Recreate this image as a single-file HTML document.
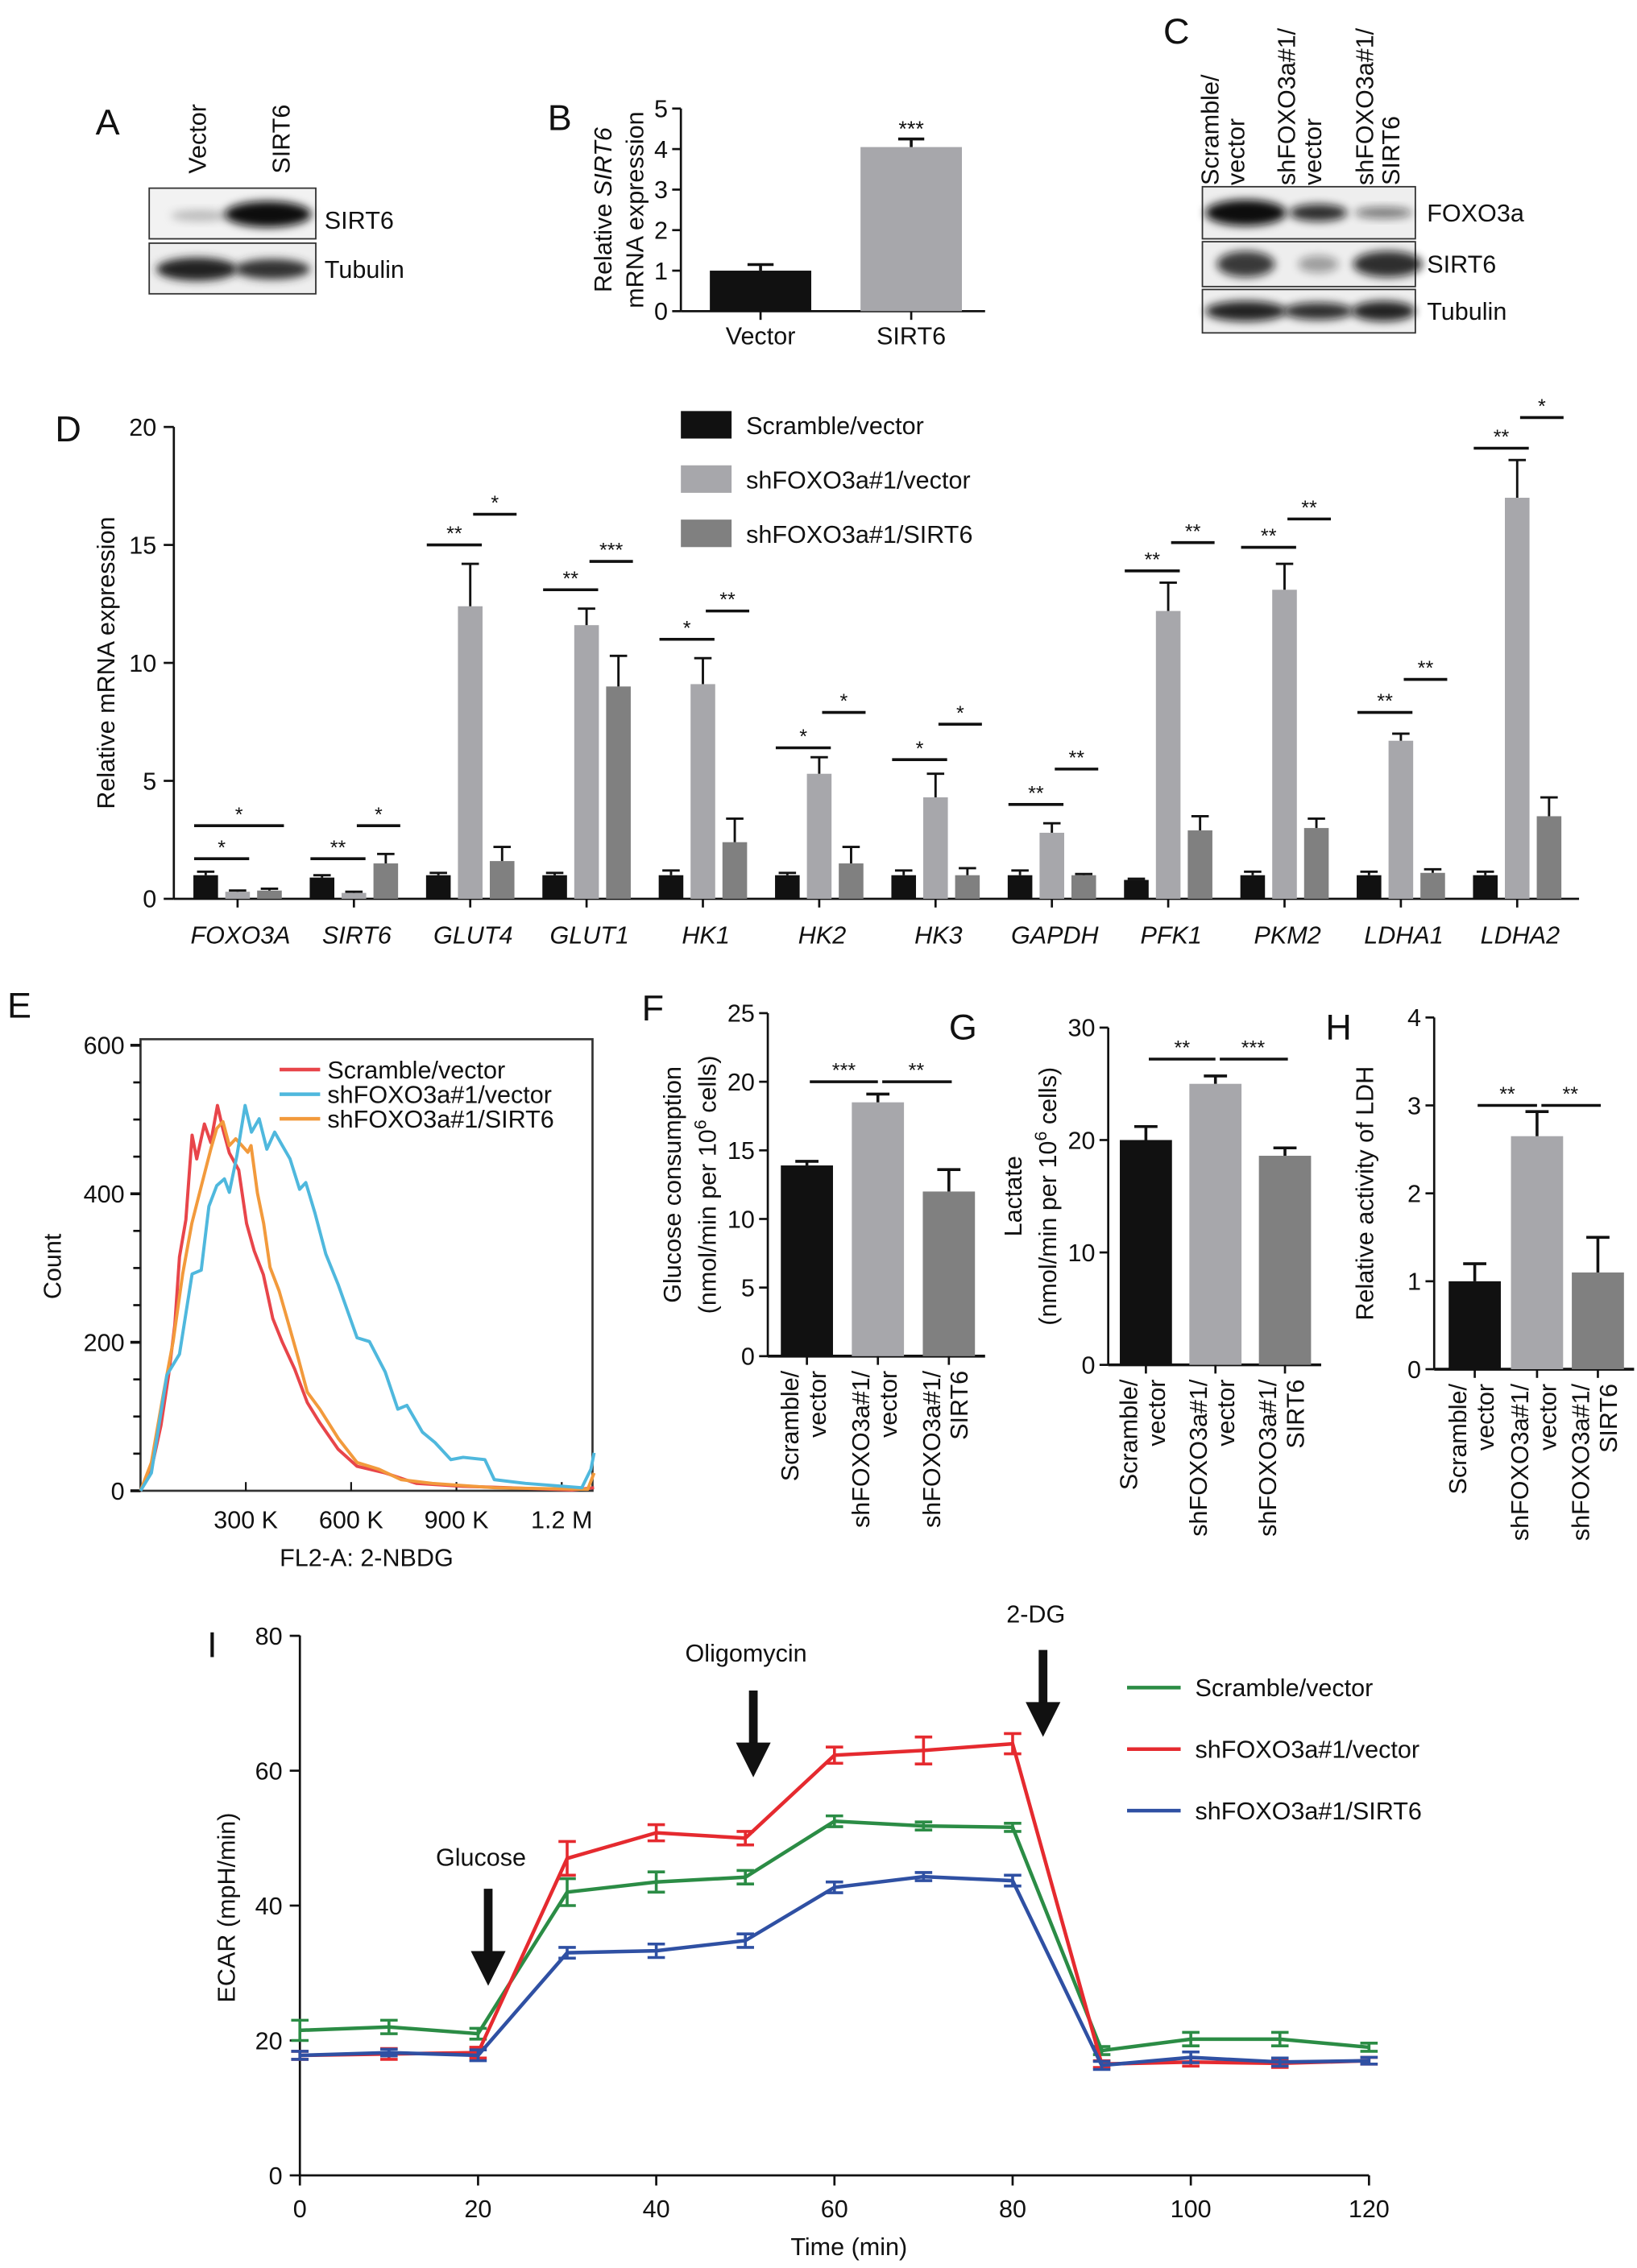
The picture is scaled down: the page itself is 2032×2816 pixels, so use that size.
<!DOCTYPE html>
<html><head><meta charset="utf-8">
<style>
html,body{margin:0;padding:0;background:#fff;}
svg{display:block;font-family:"Liberation Sans",Arial,sans-serif;}
</style></head>
<body>
<svg id="fig" width="2032" height="2816" viewBox="0 0 1130 1567" preserveAspectRatio="none" xmlns="http://www.w3.org/2000/svg">
<defs>
<filter id="blur" x="-20%" y="-50%" width="140%" height="200%"><feGaussianBlur stdDeviation="3"/></filter>
</defs>
<g id="root"></g>
</svg>
<script>
// ---------- DATA ----------
const bCats=["Vector","SIRT6"], bVals=[1.0,4.05], bErr=[0.15,0.2], bTicks=[0,1,2,3,4,5];
const dCats=["FOXO3A","SIRT6","GLUT4","GLUT1","HK1","HK2","HK3","GAPDH","PFK1","PKM2","LDHA1","LDHA2"];
const dScr=[1.0,0.9,1.0,1.0,1.0,1.0,1.0,1.0,0.8,1.0,1.0,1.0];
const dScrErr=[0.15,0.1,0.1,0.1,0.2,0.1,0.2,0.2,0.05,0.15,0.15,0.15];
const dShV=[0.3,0.25,12.4,11.6,9.1,5.3,4.3,2.8,12.2,13.1,6.7,17.0];
const dShVErr=[0.05,0.05,1.8,0.7,1.1,0.7,1.0,0.4,1.2,1.1,0.3,1.6];
const dShS=[0.35,1.5,1.6,9.0,2.4,1.5,1.0,1.0,2.9,3.0,1.1,3.5];
const dShSErr=[0.08,0.4,0.6,1.3,1.0,0.7,0.3,0.05,0.6,0.4,0.15,0.8];
const dTicks=[0,5,10,15,20];
const dSig1=["*","**","**","**","*","*","*","**","**","**","**","**"];
const dSig1Y=[1.7,1.7,15.0,13.1,11.0,6.4,5.9,4.0,13.9,14.9,7.9,19.1];
const dSig2=["*","*","*","***","**","*","*","**","**","**","**","*"];
const dSig2Y=[3.1,3.1,16.3,14.3,12.2,7.9,7.4,5.5,15.1,16.1,9.3,20.4];
const eXTicks=[300,600,900,1200], eXTickLabels=["300 K","600 K","900 K","1.2 M"], eYTicks=[0,200,400,600];
const redX=[0,31,58,80,98,111,129,147,160,182,200,219,235,253,280,302,324,350,377,404,439,475,510,563,617,697,786,918,1051,1229,1292];
const redY=[0,29,88,156,224,315,365,479,447,494,469,519,487,455,432,360,323,291,232,200,164,119,92,56,33,24,10,6,4,1,4];
const blueX=[0,31,75,111,147,173,195,217,239,253,275,298,316,338,360,382,404,426,453,471,497,528,563,617,652,697,733,759,803,839,884,919,981,1008,1097,1257,1283,1292];
const blueY=[0,24,156,184,292,297,383,411,420,402,452,519,483,501,460,483,465,447,406,415,374,319,278,206,201,160,110,115,79,65,42,45,42,15,10,4,29,51];
const orX=[0,31,66,93,120,146,173,200,217,235,253,271,289,306,315,333,351,369,395,422,449,475,511,564,617,679,742,831,1008,1274,1292];
const orY=[0,38,133,201,292,360,410,460,488,497,465,474,465,456,465,401,360,301,269,224,179,133,110,70,38,29,15,10,4,2,24];
const grpCats=["Scramble/vector","shFOXO3a#1/vector","shFOXO3a#1/SIRT6"];
const fVals=[13.9,18.5,12.0], fErr=[0.3,0.6,1.6], fTicks=[0,5,10,15,20,25];
const gVals=[20.0,25.0,18.6], gErr=[1.2,0.7,0.7], gTicks=[0,10,20,30];
const hVals=[1.0,2.65,1.1], hErr=[0.2,0.28,0.4], hTicks=[0,1,2,3,4];
const iTime=[0,10,20,30,40,50,60,70,80,90,100,110,120];
const iGreen=[21.5,22,21,42,43.5,44.2,52.5,51.8,51.6,18.5,20.2,20.2,19.0];
const iGreenErr=[1.5,1,0.8,2,1.5,1,0.8,0.6,0.6,0.6,1,1,0.6];
const iRed=[17.8,18,18.2,47,50.8,50,62.3,63,64,16.5,16.8,16.6,17];
const iRedErr=[0.6,0.8,0.8,2.5,1.2,1,1.2,2,1.5,0.5,0.6,0.6,0.5];
const iBlue=[17.8,18.2,17.8,33,33.3,34.8,42.7,44.3,43.7,16.3,17.5,16.8,17.0];
const iBlueErr=[0.6,0.5,0.8,0.8,1,1,0.8,0.6,0.8,0.6,0.8,0.6,0.5];
const iXTicks=[0,20,40,60,80,100,120], iYTicks=[0,20,40,60,80];

// ---------- HELPERS ----------
const NS="http://www.w3.org/2000/svg";
const root=document.getElementById('root');
function el(tag,attrs,parent,text){const e=document.createElementNS(NS,tag);for(const k in attrs)e.setAttribute(k,attrs[k]);if(text!==undefined)e.textContent=text;(parent||root).appendChild(e);return e;}
function grp(name,parent){const g=el('g',{},parent);


return g;}
function txt(parent,name,x,y,s,size,anchor,extra){const t=el('text',Object.assign({x:x,y:y,'font-size':size,'text-anchor':anchor||'start',fill:'#111'},extra||{}),parent,s);


return t;}
function line(parent,x1,y1,x2,y2,w,c){return el('line',{x1:x1,y1:y1,x2:x2,y2:y2,stroke:c||'#111','stroke-width':w||1.5},parent);}
const C1='#111111',C2='#a7a7ab',C3='#808080';

// ---------- PANEL A ----------
(function(){const g=grp('panel-a');
txt(g,'panel-label-a',66,93,'A',25);
txt(g,'lane-label-vector',142,120,'Vector',17,'start',{transform:'rotate(-90 142 120)'});
txt(g,'lane-label-sirt6',200,120,'SIRT6',17,'start',{transform:'rotate(-90 200 120)'});
const r1=grp('blot-sirt6',g);el('rect',{x:103,y:130,width:115,height:35,fill:'#f2f2f2',stroke:'#333','stroke-width':1},r1);
el('ellipse',{cx:138,cy:149,rx:20,ry:4,fill:'#888',opacity:0.5,filter:'url(#blur)'},r1);
el('ellipse',{cx:185,cy:148,rx:30,ry:9,fill:'#111',filter:'url(#blur)'},r1);
const r2=grp('blot-tubulin',g);el('rect',{x:103,y:168,width:115,height:35,fill:'#eee',stroke:'#333','stroke-width':1},r2);
el('ellipse',{cx:136,cy:186,rx:28,ry:8,fill:'#222',filter:'url(#blur)'},r2);
el('ellipse',{cx:188,cy:186,rx:26,ry:7,fill:'#333',filter:'url(#blur)'},r2);
txt(g,'blot-label-sirt6',224,158,'SIRT6',17);txt(g,'blot-label-tubulin',224,192,'Tubulin',17);})();

// ---------- PANEL B ----------
(function(){const g=grp('panel-b');txt(g,'panel-label-b',378,90,'B',25);
const y=v=>215-v*28, x0=470;
line(g,x0,75,x0,215);line(g,x0,215,680,215);
bTicks.forEach(t=>{line(g,x0-6,y(t),x0,y(t));txt(g,'y-tick-b',x0-9,y(t)+6,String(t),17,'end');});
const xs=[525,629];
bCats.forEach((c,i)=>{const b=el('rect',{x:xs[i]-35,y:y(bVals[i]),width:70,height:215-y(bVals[i]),fill:i?C2:C1},g);


line(g,xs[i],y(bVals[i]),xs[i],y(bVals[i]+bErr[i]),2);line(g,xs[i]-9,y(bVals[i]+bErr[i]),xs[i]+9,y(bVals[i]+bErr[i]),2);
line(g,xs[i],215,xs[i],221);txt(g,'x-label-b',xs[i],238,c,17,'middle');});
txt(g,'sig-b',629,y(4.25)-2,'***',15,'middle');
const t=txt(g,'y-title-b',0,0,'',17,'middle',{transform:'translate(422 145) rotate(-90)'});
el('tspan',{},t,'Relative ');el('tspan',{'font-style':'italic'},t,'SIRT6');
txt(g,'y-title-b2',0,0,'mRNA expression',17,'middle',{transform:'translate(444 145) rotate(-90)'});})();

// ---------- PANEL C ----------
(function(){const g=grp('panel-c');txt(g,'panel-label-c',803,30,'C',25);
[['Scramble/','vector',850],['shFOXO3a#1/','vector',903],['shFOXO3a#1/','SIRT6',957]].forEach((l,i)=>{
txt(g,'lane-label-c',l[2]-9,128,l[0],17,'start',{transform:'rotate(-90 '+(l[2]-9)+' 128)'});
txt(g,'lane-label-c',l[2]+9,128,l[1],17,'start',{transform:'rotate(-90 '+(l[2]+9)+' 128)'});});
const rows=[['FOXO3a',129,36,[[860,28,9,1],[910,20,6,0.85],[955,20,4,0.5]]],['SIRT6',167,31,[[860,20,9,0.8],[910,14,6,0.35],[958,24,9,0.85]]],['Tubulin',200,30,[[860,28,7,0.9],[910,24,6,0.85],[955,22,7,0.9]]]];
rows.forEach(r=>{const rg=grp('blot-c-'+r[0].toLowerCase(),g);el('rect',{x:830,y:r[1],width:147,height:r[2],fill:'#eee',stroke:'#333','stroke-width':1},rg);
r[3].forEach(b=>el('ellipse',{cx:b[0],cy:r[1]+r[2]/2,rx:b[1],ry:b[2],fill:'#111',opacity:b[3],filter:'url(#blur)'},rg));
txt(g,'blot-label-c',985,r[1]+r[2]/2+6,r[0],17);});})();

// ---------- PANEL D ----------
(function(){const g=grp('panel-d');txt(g,'panel-label-d',38,305,'D',25);
const x0=120, y=v=>621-v*16.3;
line(g,x0,295,x0,621);line(g,x0,621,1090,621);
dTicks.forEach(t=>{line(g,x0-7,y(t),x0,y(t));txt(g,'y-tick-d',x0-12,y(t)+6,String(t),17,'end');});
txt(g,'y-title-d',0,0,'Relative mRNA expression',17,'middle',{transform:'translate(79 458) rotate(-90)'});
const x=i=>164+i*80.3, bw=17, off=22;
const series=[[dScr,dScrErr,C1],[dShV,dShVErr,C2],[dShS,dShSErr,C3]];
dCats.forEach((c,i)=>{const cx=x(i);
series.forEach((s,k)=>{const bx=cx+(k-1)*off;const v=s[0][i],e=s[1][i];
const r=el('rect',{x:bx-bw/2,y:y(v),width:bw,height:621-y(v),fill:s[2]},g);


line(g,bx,y(v),bx,y(v+e),1.6);line(g,bx-6,y(v+e),bx+6,y(v+e),1.6);});
line(g,cx,621,cx,627);
txt(g,'x-label-d',cx+2,652,c,17,'middle',{'font-style':'italic'});
// significance
let a1=cx-off-8,b1=cx+8,a2=cx+2,b2=cx+off+10;
if(i===0){a2=cx-off-8;}
line(g,a1,y(dSig1Y[i]),b1,y(dSig1Y[i]),2);txt(g,'sig-d',(a1+b1)/2,y(dSig1Y[i])-3,dSig1[i],14,'middle');
line(g,a2,y(dSig2Y[i]),b2,y(dSig2Y[i]),2);txt(g,'sig-d',(a2+b2)/2,y(dSig2Y[i])-3,dSig2[i],14,'middle');});
const lg=grp('legend-d',g);
grpCats.forEach((c,k)=>{el('rect',{x:470,y:284+k*37.5,width:35,height:19,fill:[C1,C2,C3][k]},lg);
txt(lg,'legend-entry-d',515,300+k*37.5,c,17);});})();

// ---------- PANEL E ----------
(function(){const g=grp('panel-e');txt(g,'panel-label-e',5,703,'E',25);
const X=v=>97+v*0.2423, Y=v=>1030-v*0.513;
el('rect',{x:97,y:718,width:312,height:312,fill:'none',stroke:'#333','stroke-width':1.5},g);
eYTicks.forEach(t=>{line(g,90,Y(t),97,Y(t),2);txt(g,'y-tick-e',86,Y(t)+6,String(t),17,'end');});
for(let t=50;t<600;t+=50){if(t%200)line(g,92,Y(t),97,Y(t),1.5);}
eXTicks.forEach((t,i)=>{line(g,X(t),1030,X(t),1024,1.2);txt(g,'x-tick-e',X(t),1056,eXTickLabels[i],17,'middle');});
txt(g,'x-title-e',253,1082,'FL2-A: 2-NBDG',17,'middle');
txt(g,'y-title-e',0,0,'Count',17,'middle',{transform:'translate(42 875) rotate(-90)'});
[[redX,redY,'#e8454a','curve-scramble'],[orX,orY,'#f29a3c','curve-sirt6'],[blueX,blueY,'#4fb8dd','curve-shfoxo3a']].forEach(s=>{
const p=el('path',{d:s[0].map((v,i)=>(i?'L':'M')+X(v).toFixed(1)+' '+Y(s[1][i]).toFixed(1)).join(' '),fill:'none',stroke:s[2],'stroke-width':2.2,'stroke-linejoin':'round'},g);

});
['#e8454a','#4fb8dd','#f29a3c'].forEach((c,k)=>{line(g,193,739+k*17,221,739+k*17,2.5,c);txt(g,'legend-entry-e',226,745+k*17,grpCats[k],17);});})();

// ---------- PANELS F G H ----------
function smallBar(name,label,lx,ly,x0,yTop,yBot,vmax,ticks,vals,errs,xs,sig,titles,tx){
const g=grp(name);txt(g,'panel-label-'+label,lx,ly,label.toUpperCase(),25);
const y=v=>yBot-(yBot-yTop)*v/vmax;
line(g,x0,yTop,x0,yBot);line(g,x0,yBot,xs[2]+25,yBot,2);
ticks.forEach(t=>{line(g,x0-6,y(t),x0,y(t));txt(g,'y-tick-'+label,x0-9,y(t)+6,String(t),17,'end');});
vals.forEach((v,i)=>{const r=el('rect',{x:xs[i]-18,y:y(v),width:36,height:yBot-y(v),fill:[C1,C2,C3][i]},g);


line(g,xs[i],y(v),xs[i],y(v+errs[i]),2);line(g,xs[i]-8,y(v+errs[i]),xs[i]+8,y(v+errs[i]),2);
line(g,xs[i],yBot,xs[i],yBot+6);
const l1=['Scramble/','shFOXO3a#1/','shFOXO3a#1/'][i],l2=['vector','vector','SIRT6'][i];
txt(g,'x-label-'+label,xs[i]-6,yBot+10,l1,17,'end',{transform:'rotate(-90 '+(xs[i]-6)+' '+(yBot+10)+')'});
txt(g,'x-label-'+label,xs[i]+13,yBot+10,l2,17,'end',{transform:'rotate(-90 '+(xs[i]+13)+' '+(yBot+10)+')'});});
const sy=y(sig[2]);
line(g,xs[0]+2,sy,xs[1],sy,2);txt(g,'sig-'+label,(xs[0]+xs[1])/2+1,sy-3,sig[0],14,'middle');
line(g,xs[1]+3,sy,xs[2]+2,sy,2);txt(g,'sig-'+label,(xs[1]+xs[2])/2+2,sy-3,sig[1],14,'middle');
const cy=(yTop+yBot)/2;
titles.forEach((t,k)=>{const e=txt(g,'y-title-'+label,0,0,'',17,'middle',{transform:'translate('+tx[k]+' '+cy+') rotate(-90)'});
if(t.indexOf('10^6')>=0){el('tspan',{},e,t.split('10^6')[0]+'10');el('tspan',{'baseline-shift':'super','font-size':12},e,'6');el('tspan',{},e,t.split('10^6')[1]);}else e.textContent=t;});}
smallBar('panel-f','f',443,705,530,700,937,25,fTicks,fVals,fErr,[557,606,655],['***','**',20.0],['Glucose consumption','(nmol/min per 10^6 cells)'],[470,494]);
smallBar('panel-g','g',655,718,765,710,943,30,gTicks,gVals,gErr,[791,839,887],['**','***',27.2],['Lactate','(nmol/min per 10^6 cells)'],[705,729]);
smallBar('panel-h','h',915,718,990,703,946,4,hTicks,hVals,hErr,[1018,1061,1103],['**','**',3.0],['Relative activity of LDH'],[948]);

// ---------- PANEL I ----------
(function(){const g=grp('panel-i');txt(g,'panel-label-i',143,1145,'I',25);
const X=t=>207+t*6.15, Y=v=>1503-v*4.66;
line(g,207,1130,207,1503);line(g,207,1503,945,1503);
iYTicks.forEach(t=>{line(g,200,Y(t),207,Y(t));txt(g,'y-tick-i',195,Y(t)+6,String(t),17,'end');});
iXTicks.forEach(t=>{line(g,X(t),1503,X(t),1510);txt(g,'x-tick-i',X(t),1532,String(t),17,'middle');});
txt(g,'x-title-i',586,1558,'Time (min)',17,'middle');
txt(g,'y-title-i',0,0,'ECAR (mpH/min)',17,'middle',{transform:'translate(162 1318) rotate(-90)'});
[[iGreen,iGreenErr,'#2b8c45','line-scramble'],[iRed,iRedErr,'#e52a2f','line-shfoxo3a-vector'],[iBlue,iBlueErr,'#2f50a3','line-shfoxo3a-sirt6']].forEach(s=>{
const p=el('path',{d:iTime.map((t,i)=>(i?'L':'M')+X(t).toFixed(1)+' '+Y(s[0][i]).toFixed(1)).join(' '),fill:'none',stroke:s[2],'stroke-width':2.5},g);


iTime.forEach((t,i)=>{const v=s[0][i],e=s[1][i];line(g,X(t),Y(v+e),X(t),Y(v-e),2,s[2]);line(g,X(t)-6,Y(v+e),X(t)+6,Y(v+e),2,s[2]);line(g,X(t)-6,Y(v-e),X(t)+6,Y(v-e),2,s[2]);});});
[['Glucose',337,1283,1305,1372],['Oligomycin',520,1142,1168,1228],['2-DG',720,1115,1140,1200]].forEach(a=>{
const ag=grp('arrow-'+a[0].toLowerCase(),g);txt(ag,'arrow-label',a[1]-5,a[2]+6,a[0],17,'middle');
line(ag,a[1],a[3],a[1],a[4]-20,6);el('polygon',{points:(a[1]-12)+','+(a[4]-24)+' '+(a[1]+12)+','+(a[4]-24)+' '+a[1]+','+a[4],fill:'#111'},ag);});
['#2b8c45','#e52a2f','#2f50a3'].forEach((c,k)=>{line(g,778,1166+k*42.5,815,1166+k*42.5,2.5,c);txt(g,'legend-entry-i',825,1172+k*42.5,grpCats[k],17);});})();
</script>
</body></html>
